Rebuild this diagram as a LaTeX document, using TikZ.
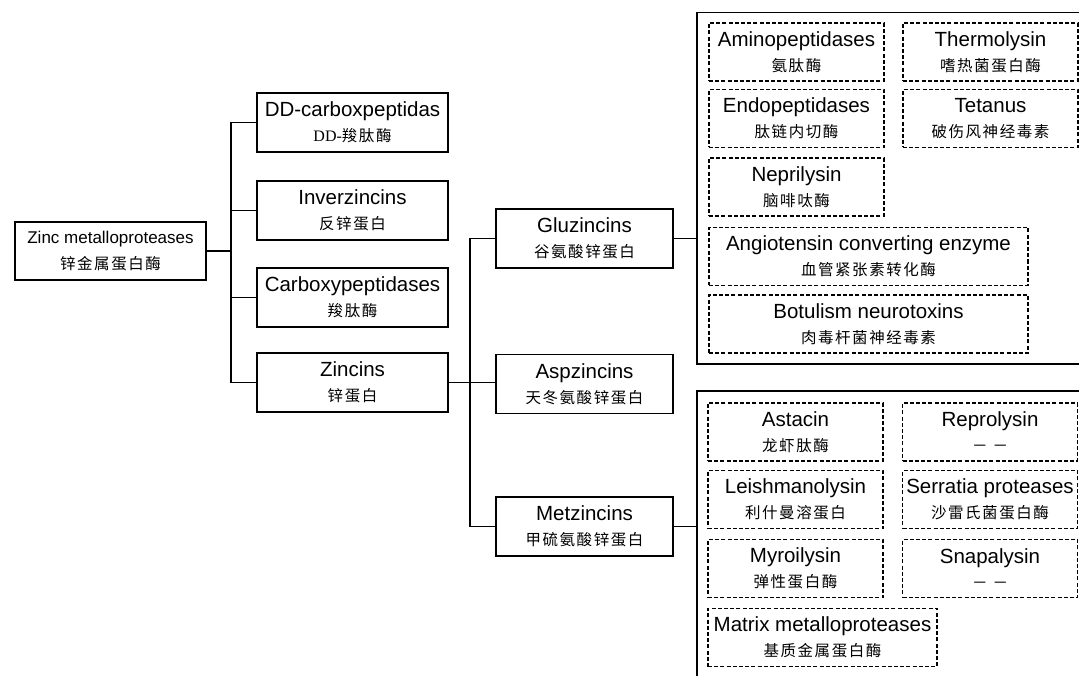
\documentclass[tikz,border=0pt]{standalone}
\usepackage{fontspec}
\setmainfont{Liberation Sans}
\newfontfamily\cjk[LetterSpace=10]{Noto Sans CJK SC}
\newfontfamily\serifdd{Liberation Serif}
\newcommand\zh[1]{{\cjk\fontsize{15.5}{25}\selectfont #1}}
\begin{document}
\begin{tikzpicture}[x=1pt,y=-1pt,
  mainbox/.style={draw=black, line width=1.8pt, minimum width=191pt, minimum height=59pt, inner sep=0pt, align=center, font=\fontsize{20.5}{25}\selectfont},
  dbox/.style={draw=black, line width=1.2pt, dash pattern=on 4pt off 2.2pt, minimum width=175pt, minimum height=58pt, inner sep=0pt, align=center, font=\fontsize{20.5}{25}\selectfont},
  bigbox/.style={draw=black, line width=1.5pt, inner sep=0pt},
  conn/.style={draw=black, line width=1.4pt}]
\fill[white] (0,0) rectangle (1079,676);
\clip (0,0) rectangle (1079,676);

% level 0
\node[mainbox, line width=1.4pt, minimum height=58pt, font=\fontsize{17}{26}\selectfont] (zm) at (110.5,251) {Zinc metalloproteases\\\zh{锌金属蛋白酶}};

% level 1
\node[mainbox] (dd)   at (352.5,122.5) {DD-carboxpeptidas\\{\serifdd\fontsize{16}{25}\selectfont DD-}\zh{羧肽酶}};
\node[mainbox] (inv)  at (352.5,210.5) {Inverzincins\\\zh{反锌蛋白}};
\node[mainbox] (carb) at (352.5,297.5) {Carboxypeptidases\\\zh{羧肽酶}};
\node[mainbox] (zin)  at (352.5,382.5) {Zincins\\\zh{锌蛋白}};

% level 2
\node[mainbox, minimum width=177pt] (glu) at (584.5,238.5) {Gluzincins\\\zh{谷氨酸锌蛋白}};
\node[mainbox, minimum width=177pt] (asp) at (584.5,384) {Aspzincins\\\zh{天冬氨酸锌蛋白}};
\node[mainbox, minimum width=177pt] (met) at (584.5,526.5) {Metzincins\\\zh{甲硫氨酸锌蛋白}};

% group boxes
\node[bigbox, anchor=north west, minimum width=420pt, minimum height=351pt] (g1) at (696,12) {};
\node[bigbox, anchor=north west, minimum width=420pt, minimum height=330pt] (g2) at (696,390) {};

% group 1 members
\node[dbox] (amino)  at (796.5,52)    {Aminopeptidases\\\zh{氨肽酶}};
\node[dbox] (thermo) at (990.5,52)    {Thermolysin\\\zh{嗜热菌蛋白酶}};
\node[dbox] (endo)   at (796.5,118.5) {Endopeptidases\\\zh{肽链内切酶}};
\node[dbox] (tet)    at (990.5,118.5) {Tetanus\\\zh{破伤风神经毒素}};
\node[dbox] (nep)    at (796.5,187)   {Neprilysin\\\zh{脑啡呔酶}};
\node[dbox, minimum width=319pt] (ace) at (868.5,256.5) {Angiotensin converting enzyme\\\zh{血管紧张素转化酶}};
\node[dbox, minimum width=319pt] (bot) at (868.5,324)   {Botulism neurotoxins\\\zh{肉毒杆菌神经毒素}};

% group 2 members
\node[dbox] (ast)   at (795.5,432)   {Astacin\\\zh{龙虾肽酶}};
\node[dbox] (rep)   at (990,432)     {Reprolysin\\\zh{－ －}};
\node[dbox] (lei)   at (795.5,499.5) {Leishmanolysin\\\zh{利什曼溶蛋白}};
\node[dbox] (ser)   at (990,499.5)   {Serratia proteases\\\zh{沙雷氏菌蛋白酶}};
\node[dbox] (myr)   at (795.5,568.5) {Myroilysin\\\zh{弹性蛋白酶}};
\node[dbox] (snap)  at (990,568.5)   {Snapalysin\\\zh{－ －}};
\node[dbox, minimum width=229pt] (mmp) at (822.5,637.5) {Matrix metalloproteases\\\zh{基质金属蛋白酶}};

% connectors
\coordinate (t1) at (231,251);
\draw[conn] (zm.east) -- (t1);
\draw[conn] (t1) |- (dd.west);
\draw[conn] (t1) |- (inv.west);
\draw[conn] (t1) |- (carb.west);
\draw[conn] (t1) |- (zin.west);

\coordinate (t2) at (470,382.5);
\draw[conn] (zin.east) -- (zin.east -| asp.west);
\draw[conn] (t2) |- (glu.west);
\draw[conn] (t2) |- (met.west);

\draw[conn] (glu.east) -- (glu.east -| g1.west);
\draw[conn] (met.east) -- (met.east -| g2.west);
\end{tikzpicture}
\end{document}
